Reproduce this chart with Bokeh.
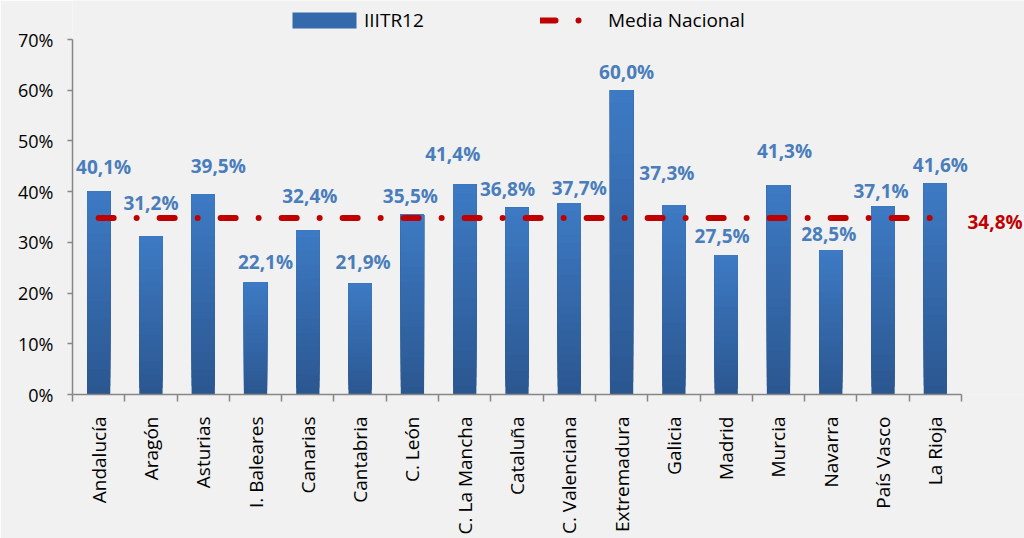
import numpy as np
from bokeh.plotting import figure
from bokeh.models import (Range1d, FixedTicker, ColumnDataSource, LabelSet, Label,
                          Legend, LegendItem)
from bokeh.core.properties import value
from bokeh.embed import file_html
from bokeh.resources import INLINE

# ---------------- data ----------------
regions = ["Andalucía", "Aragón", "Asturias", "I. Baleares", "Canarias", "Cantabria",
           "C. León", "C. La Mancha", "Cataluña", "C. Valenciana", "Extremadura",
           "Galicia", "Madrid", "Murcia", "Navarra", "País Vasco", "La Rioja"]
values = [40.1, 31.2, 39.5, 22.1, 32.4, 21.9, 35.5, 41.4, 36.8, 37.7, 60.0,
          37.3, 27.5, 41.3, 28.5, 37.1, 41.6]
national_mean = 34.8
series_name = "IIITR12"
mean_name = "Media Nacional"
y_ticks = [0, 10, 20, 30, 40, 50, 60, 70]

# style: manual placement of each value label in the original (px above bar top, px sideways)
label_lift = [24, 33.5, 27.5, 20.5, 34, 21, 18.5, 30, 18.5, 15, 18, 32, 19, 34, 16, 15, 18]
label_shift = [5, 0, 15, 10, 2, 3, -2, -12, -9.5, 10, 5, -7, -4, 6, -2, -2, 5]

# ---------------- style ----------------
BG = "#f0f1f0"
FONT = "Open Sans"
AXIS_GREY = "#868686"
LABEL_BLUE = "#4a7dbb"
RED = "#c00000"
TOP_RGB = np.array([61, 122, 195])
BOT_RGB = np.array([43, 87, 145])

n = len(regions)
vals = np.array(values, dtype=float)
xc = np.arange(n) + 0.5
boundaries = list(np.arange(n + 1).astype(float))

W, H = 1024, 538
FL = 72            # frame left
FW = 889           # width of the category area
Y0_PX = 394        # pixel row of 0 %
Y70_PX = 39        # pixel row of the top tick
FH = Y0_PX         # frame reaches the top of the canvas (room for the legend)
y_top = y_ticks[-1] * Y0_PX / (Y0_PX - Y70_PX)
x_end = n * (W - FL) / FW   # frame reaches the right edge (room for the mean label)

p = figure(width=W, height=H, x_range=Range1d(0, x_end), y_range=Range1d(0, y_top),
           output_backend="svg", toolbar_location=None,
           min_border_left=FL, min_border_top=0,
           min_border_right=0, min_border_bottom=H - FH)
p.background_fill_color = BG
p.border_fill_color = BG
p.outline_line_color = None
p.xgrid.visible = False
p.ygrid.visible = False

# bars with a vertical gradient (layers from bottom colour to top colour)
N = 24
bar_w = 0.445
layer_renderers = []
for k in range(N):
    t = k / (N - 1)
    rgb = (BOT_RGB + (TOP_RGB - BOT_RGB) * t).round().astype(int)
    col = "#%02x%02x%02x" % tuple(rgb)
    src = ColumnDataSource(dict(x=xc, top=vals, bottom=vals * k / N))
    r = p.vbar(x="x", top="top", bottom="bottom", width=bar_w, source=src,
               fill_color=col, line_color=None)
    layer_renderers.append(r)

# national mean line
mean_r = p.line(x=[xc[0], xc[-1]], y=[national_mean, national_mean],
                line_color=RED, line_width=6, line_dash="15 23 0 23", line_cap="round")

# value labels
lab_src = ColumnDataSource(dict(
    x=xc, y=vals,
    text=[("%.1f" % v).replace(".", ",") + "%" for v in vals],
    dy=[l - 6.8 for l in label_lift],
    dx=label_shift))
p.add_layout(LabelSet(x="x", y="y", text="text", x_offset="dx", y_offset="dy", source=lab_src,
                      text_align="center", text_baseline="alphabetic",
                      text_font=value(FONT), text_font_style="bold",
                      text_font_size="19px", text_color=LABEL_BLUE))

# national mean value, right of the category area
p.add_layout(Label(x=n, y=national_mean, x_offset=6, y_offset=-3.5,
                   text=("%.1f" % national_mean).replace(".", ",") + "%",
                   text_align="left", text_baseline="alphabetic",
                   text_font=FONT, text_font_style="bold", text_font_size="19px",
                   text_color=RED))

# axes
xa = p.xaxis[0]
xa.bounds = (0, n)
xa.ticker = FixedTicker(ticks=list(xc), minor_ticks=boundaries)
xa.major_label_overrides = {float(x): name for x, name in zip(xc, regions)}
xa.major_label_orientation = np.pi / 2
xa.major_label_text_font = FONT
xa.major_label_text_font_size = "19px"
xa.major_label_text_color = "#000000"
xa.major_label_standoff = 15
xa.major_tick_out = 0
xa.major_tick_in = 0
xa.major_tick_line_color = None
xa.minor_tick_out = 7
xa.minor_tick_in = 0
xa.minor_tick_line_color = AXIS_GREY
xa.minor_tick_line_width = 1.5
xa.axis_line_color = AXIS_GREY
xa.axis_line_width = 1.5

ya = p.yaxis[0]
ya.ticker = FixedTicker(ticks=y_ticks, minor_ticks=[])
ya.bounds = (y_ticks[0], y_ticks[-1])
ya.major_label_overrides = {t: "%d%%" % t for t in y_ticks}
ya.major_label_text_font = FONT
ya.major_label_text_font_size = "18px"
ya.major_label_text_color = "#000000"
ya.major_label_standoff = 14
ya.major_tick_out = 5
ya.major_tick_in = 0
ya.major_tick_line_color = AXIS_GREY
ya.major_tick_line_width = 1.5
ya.minor_tick_line_color = None
ya.axis_line_color = AXIS_GREY
ya.axis_line_width = 1.5

# legends (two, positioned in the top strip of the frame)
leg_y = Y0_PX - 33
common = dict(orientation="horizontal", padding=0, margin=0, spacing=0,
              border_line_color=None, background_fill_alpha=0,
              label_text_font=FONT, label_text_font_size="19px",
              label_text_color="#000000", label_height=20, glyph_height=20)
leg1 = Legend(items=[LegendItem(label=series_name, renderers=[layer_renderers[N // 2]])],
              location=(292 - 8 - FL, leg_y), glyph_width=80, label_standoff=0, **common)
leg2 = Legend(items=[LegendItem(label=mean_name, renderers=[mean_r])],
              location=(540 - FL, leg_y), glyph_width=60, label_standoff=8, **common)
p.add_layout(leg1)
p.add_layout(leg2)

html = file_html(p, INLINE, title="IIITR12")
html = html.replace("<body>", '<body style="background-color:%s;">' % BG, 1)
open("out.html", "w").write(html)
